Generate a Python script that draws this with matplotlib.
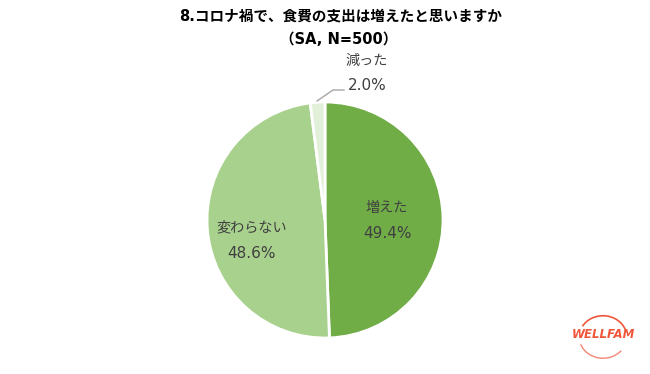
import matplotlib
matplotlib.use("Agg")
import matplotlib.pyplot as plt
from matplotlib.patches import Arc

plt.rcParams['font.family'] = ['Noto Sans CJK JP', 'DejaVu Sans']

labels = ['増えた', '変わらない', '減った']
values = [49.4, 48.6, 2.0]
colors = ['#70AD47', '#A9D18E', '#E2F0D9']
title1 = '8.コロナ禍で、食費の支出は増えたと思いますか'
title2 = '（SA, N=500）'

W, H = 650, 374
fig = plt.figure(figsize=(W/100, H/100), dpi=100)
cx, cy, r = 325, 220, 118
ax = fig.add_axes([(cx - r)/W, 1 - (cy + r)/H, 2*r/W, 2*r/H])
wedges, _ = ax.pie(values, colors=colors, startangle=90, counterclock=False,
                   wedgeprops=dict(edgecolor='white', linewidth=2))
ax.set_xlim(-1, 1); ax.set_ylim(-1, 1)
ax.set_aspect('equal')

tc = '#404040'
jp = ['Noto Sans CJK JP', 'DejaVu Sans']
num = ['DejaVu Sans']
def px(x, y):
    return ((x - cx)/r, (cy - y)/r)

ls = 10.2
ax.text(*px(387, 208), labels[0], ha='center', va='center', fontsize=ls, color=tc, family=jp)
ax.text(*px(387, 233), f'{values[0]:.1f}%', ha='center', va='center', fontsize=11, color=tc, family=num)
ax.text(*px(252, 227), labels[1], ha='center', va='center', fontsize=ls, color=tc, family=jp)
ax.text(*px(252, 253), f'{values[1]:.1f}%', ha='center', va='center', fontsize=11, color=tc, family=num)
ax.text(*px(367, 61), labels[2], ha='center', va='center', fontsize=ls, color=tc, clip_on=False, family=jp)
ax.text(*px(367, 86), f'{values[2]:.1f}%', ha='center', va='center', fontsize=11, color=tc, clip_on=False, family=num)
x0, y0 = px(317, 101)
x1, y1 = px(333, 90)
x2, y2 = px(344, 90)
ax.plot([x0, x1, x2], [y0, y1, y2], color='#A6A6A6', lw=1, clip_on=False)

tf = ['DejaVu Sans', 'Noto Sans CJK JP']
fig.text(341/W, 1 - 16/H, title1, ha='center', va='center', fontsize=10.5, fontweight='bold', color='#000000', family=tf)
fig.text(339/W, 1 - 39.5/H, title2, ha='center', va='center', fontsize=10.5, fontweight='bold', color='#000000', family=tf)

# logo
lc = '#F0573A'
fig.text(603/W, 1 - 335/H, 'WELLFAM', ha='center', va='center', fontsize=8.5,
         fontstyle='italic', fontweight='bold', color=lc, family=['DejaVu Sans'])
lax = fig.add_axes([575/W, 1 - 362/H, 56/W, 50/H])
lax.set_xlim(-1, 1); lax.set_ylim(-1, 1); lax.axis('off')
lax.add_patch(Arc((0, 0), 1.7, 1.7, theta1=20, theta2=150, color=lc, lw=1.2))
lax.add_patch(Arc((0, 0), 1.7, 1.7, theta1=200, theta2=320, color=lc, lw=1.0, alpha=0.7))

fig.savefig('out.png', dpi=100, facecolor='white')
